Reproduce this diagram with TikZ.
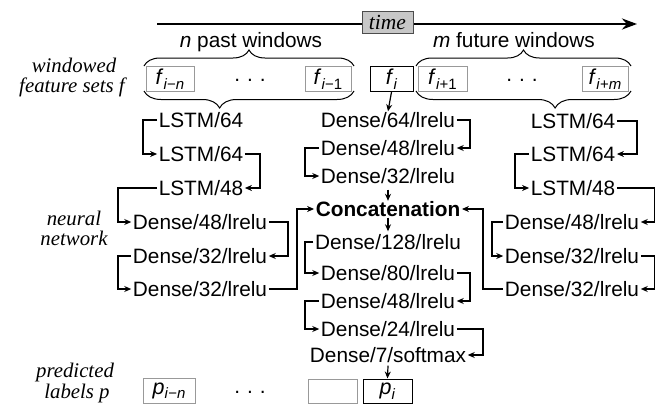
\documentclass[tikz,border=0pt]{standalone}
\usepackage{fontspec}
\setmainfont{Liberation Serif}
\setsansfont{Liberation Sans}
\usetikzlibrary{arrows.meta,decorations.pathreplacing}
\newcommand{\mysub}[1]{\raisebox{-4.5pt}{\fontsize{15}{15}\selectfont #1}}
\begin{document}
\begin{tikzpicture}[x=1pt,y=-1pt,
  lbl/.style={font=\sffamily\fontsize{20.8}{22}\selectfont, inner xsep=1.5pt, inner ysep=0pt, text height=15pt, text depth=0pt},
  side/.style={font=\rmfamily\itshape\fontsize{20.8}{22}\selectfont, inner sep=0pt, anchor=base},
  arr/.style={line width=1.2pt, -{Stealth[length=7pt,width=6pt]}},
  wbox/.style={draw=black!40, line width=1pt, minimum height=25pt, inner sep=0pt, font=\sffamily\fontsize{21.5}{22}\selectfont},
  cbox/.style={wbox, draw=black},
  brc/.style={decorate, line width=1pt},
]
\useasboundingbox (0,0) rectangle (656,407);

% time axis
\coordinate (ax0) at (157,24);
\coordinate (ax1) at (637,24);
\draw[line width=2.6pt,-{Stealth[length=15pt,width=11pt]}] (ax0) -- (ax1);
\node[draw=black!70, fill=black!22, line width=1pt, minimum width=51pt, minimum height=22pt, inner sep=0pt,
      font=\rmfamily\itshape\fontsize{21.5}{22}\selectfont] (time) at (387.5,22) {time};

\node[lbl] (npast) at (251,40) {\textit{n} past windows};
\node[lbl] (mfut) at (514,40) {\textit{m} future windows};

% side labels
\node[side] (w1) at (74,72) {windowed};
\node[side] (w2) at (72,92) {feature sets f};
\node[side] (n1) at (74,225) {neural};
\node[side] (n2) at (74,245) {network};
\node[side] (p1) at (75,377) {predicted};
\node[side] (p2) at (77,398) {labels p};

% feature boxes
\node[wbox, minimum width=48pt] (fin) at (170,79) {\textit{f}\mysub{\textit{i}−\textit{n}}};
\node[lbl, anchor=base] (d1) at (250,81.5) {.\hspace{7pt}.\hspace{7pt}.};
\node[wbox, minimum width=46pt] (fi1) at (328,79) {\textit{f}\mysub{\textit{i}−1}};
\node[cbox, minimum width=43pt] (fi) at (391.5,79) {\textit{f}\mysub{\textit{i}}};
\node[wbox, minimum width=49pt] (fip) at (442.5,79) {\textit{f}\mysub{\textit{i}+1}};
\node[lbl, anchor=base] (d2) at (522,81.5) {.\hspace{7pt}.\hspace{7pt}.};
\node[wbox, minimum width=46pt] (fim) at (605,79) {\textit{f}\mysub{\textit{i}+\textit{m}}};

% braces
\draw[brc, decoration={brace,amplitude=16pt,aspect=0.5}] (144,66) -- (354,66);
\draw[brc, decoration={brace,mirror,amplitude=17pt,aspect=0.36}] (144,91) -- (354,91);
\draw[brc, decoration={brace,amplitude=16pt,aspect=0.5}] (416,66) -- (631,66);
\draw[brc, decoration={brace,mirror,amplitude=17pt,aspect=0.647}] (416,91) -- (631,91);

% left column
\node[lbl] (L1) at (201,120) {LSTM/64};
\node[lbl] (L2) at (201,154) {LSTM/64};
\node[lbl] (L3) at (201,188) {LSTM/48};
\node[lbl] (L4) at (200,222) {Dense/48/lrelu};
\node[lbl] (L5) at (200,256) {Dense/32/lrelu};
\node[lbl] (L6) at (200,289) {Dense/32/lrelu};

% center column
\node[lbl] (C1) at (388,120) {Dense/64/lrelu};
\node[lbl] (C2) at (388,148) {Dense/48/lrelu};
\node[lbl] (C3) at (388,176) {Dense/32/lrelu};
\node[lbl, font=\sffamily\bfseries\fontsize{20.8}{22}\selectfont] (C4) at (388,209) {Concatenation};
\node[lbl] (C5) at (388,242) {Dense/128/lrelu};
\node[lbl] (C6) at (388,273) {Dense/80/lrelu};
\node[lbl] (C7) at (388,301) {Dense/48/lrelu};
\node[lbl] (C8) at (388,329) {Dense/24/lrelu};
\node[lbl] (C9) at (388,355) {Dense/7/softmax};

% right column
\node[lbl] (R1) at (573,121) {LSTM/64};
\node[lbl] (R2) at (573,154) {LSTM/64};
\node[lbl] (R3) at (573,188) {LSTM/48};
\node[lbl] (R4) at (572,222) {Dense/48/lrelu};
\node[lbl] (R5) at (572,256) {Dense/32/lrelu};
\node[lbl] (R6) at (572,289) {Dense/32/lrelu};

% predicted boxes
\node[wbox, minimum width=52pt] (pin) at (169,390.5) {\textit{p}\mysub{\textit{i}−\textit{n}}};
\node[lbl, anchor=base] (d3) at (250,393) {.\hspace{7pt}.\hspace{7pt}.};
\node[wbox, minimum width=49pt, minimum height=24pt] (pbl) at (332.5,391) {};
\node[cbox, minimum width=49pt, minimum height=24pt] (pi) at (387.5,391) {\textit{p}\mysub{\textit{i}}};

% hook x positions
\coordinate (hA) at (143,0);
\coordinate (hB) at (260,0);
\coordinate (hC) at (118,0);
\coordinate (hD) at (288,0);
\coordinate (hE) at (297,0);
\coordinate (cR) at (470,0);
\coordinate (cL) at (305,0);
\coordinate (cR2) at (483,0);
\coordinate (rA) at (637,0);
\coordinate (rB) at (515,0);
\coordinate (rC) at (654.5,0);
\coordinate (rD) at (492,0);
\coordinate (rE) at (483,0);

% left connectors
\draw[arr] (L1.west) -- (L1.west -| hA) |- (L2.west);
\draw[arr] (L2.east) -- (L2.east -| hB) |- (L3.east);
\draw[arr] (L3.west) -- (L3.west -| hC) |- (L4.west);
\draw[arr] (L4.east) -- (L4.east -| hD) |- (L5.east);
\draw[arr] (L5.west) -- (L5.west -| hC) |- (L6.west);
\draw[arr] (L6.east) -- (L6.east -| hE) |- (C4.west);

% center connectors
\draw[arr] (fi.south) -- ([yshift=1pt]C1.north);
\draw[arr] (C1.east) -- (C1.east -| cR) |- (C2.east);
\draw[arr] (C2.west) -- (C2.west -| cL) |- (C3.west);
\draw[arr] ([yshift=-6pt]C3.south) -- ([yshift=0.5pt]C4.north);
\draw[arr] ([yshift=-1pt]C4.south) -- ([yshift=3pt]C5.north);
\draw[arr] (C5.west) -- (C5.west -| cL) |- (C6.west);
\draw[arr] (C6.east) -- (C6.east -| cR) |- (C7.east);
\draw[arr] (C7.west) -- (C7.west -| cL) |- (C8.west);
\draw[arr] (C8.east) -- (C8.east -| cR2) |- (C9.east);
\draw[arr] ([yshift=-3pt]C9.south) -- (pi.north);

% right connectors
\draw[arr] (R1.east) -- (R1.east -| rA) |- (R2.east);
\draw[arr] (R2.west) -- (R2.west -| rB) |- (R3.west);
\draw[arr] (R3.east) -- (R3.east -| rC) |- (R4.east);
\draw[arr] (R4.west) -- (R4.west -| rD) |- (R5.west);
\draw[arr] (R5.east) -- (R5.east -| rC) |- (R6.east);
\draw[arr] (R6.west) -- (R6.west -| rE) |- (C4.east);
\end{tikzpicture}
\end{document}
